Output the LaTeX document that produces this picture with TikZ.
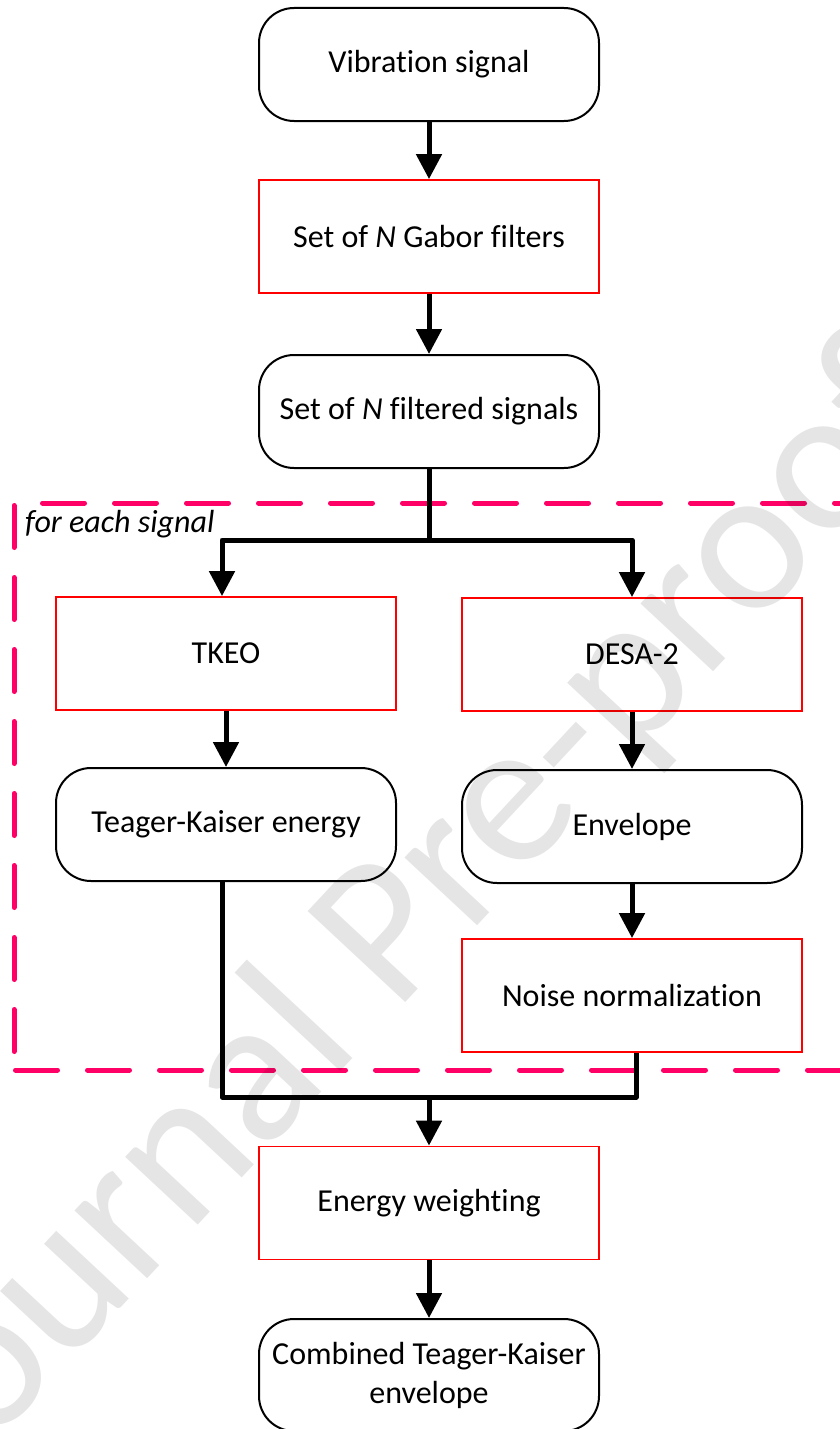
\documentclass[tikz,border=0pt]{standalone}
\usepackage{fontspec}
\setmainfont{Carlito}[Ligatures=NoCommon]
\usetikzlibrary{arrows.meta}
\definecolor{dashpink}{RGB}{255,0,102}
\begin{document}
\begin{tikzpicture}[x=1pt,y=-1pt,
  every node/.style={font=\fontsize{32}{39}\selectfont, inner sep=0pt, align=center},
  rbox/.style={draw=black, line width=2pt, rounded corners=35pt, minimum width=340pt, minimum height=113pt},
  sbox/.style={draw=red, line width=1.8pt, minimum width=340pt, minimum height=113pt},
  flow/.style={line width=5pt, line join=round, -{Triangle[length=25pt,width=25pt]}},
  link/.style={line width=5pt, line join=round},
  frame/.style={draw=dashpink, line width=5pt, line cap=round, dash pattern=on 42pt off 30pt}
]
\useasboundingbox (0,0) rectangle (840,1429);
\fill[white] (0,0) rectangle (840,1429);
\clip (0,0) rectangle (840,1429);

% dashed frame
\draw[frame] (42.5,503) -- (860,503);
\draw[frame] (14,505.5) -- (14,1072);
\draw[frame] (15.5,1070) -- (860,1070);
\node[anchor=base west, font=\fontsize{32}{39}\selectfont\itshape] (lbl) at (25,532) {for each signal};

% nodes
\node[rbox] (vib) at (429,64.5) {Vibration signal};
\node[sbox] (gab) at (429,236.5) {Set of \textit{N} Gabor filters};
\node[rbox] (fil) at (429,411.5) {Set of \textit{N} filtered signals};
\node[sbox] (tkeo) at (226,653.5) {TKEO};
\node[sbox] (desa) at (632,654.5) {DESA-2};
\node[rbox] (tke) at (226,824.5) {Teager-Kaiser energy};
\node[rbox] (env) at (632,826.5) {Envelope};
\node[sbox] (noise) at (632,995.5) {Noise normalization};
\node[sbox] (ew) at (429,1203) {Energy weighting};
\node[rbox, minimum height=112pt] (comb) at (429,1375) {Combined Teager-Kaiser\\envelope};

% connectors
\draw[flow] (vib) -- (gab);
\draw[flow] (gab) -- (fil);
\coordinate (split) at (429,540);
\coordinate (sL) at (222,540);
\coordinate (sR) at (632,540);
\draw[link] (fil.south) -- (split);
\draw[flow] (split) -- (sL) -- (sL |- tkeo.north);
\draw[flow] (split) -- (sR) -- (sR |- desa.north);
\draw[flow] (tkeo) -- (tke);
\draw[flow] (desa) -- (env);
\draw[flow] (env) -- (noise);
\coordinate (mL) at (222,1097);
\coordinate (mR) at (636,1097);
\coordinate (mC) at (429,1097);
\draw[link] (tke.south -| mL) -- (mL) -- (mR) -- (noise.south -| mR);
\draw[flow] (mC) -- (ew);
\draw[flow] (ew) -- (comb);

% watermark
\node[rotate=47, text=black, text opacity=0.1, font=\fontsize{208}{208}\selectfont] (wm) at (404,923) {Journal Pre-proof};
\end{tikzpicture}
\end{document}
